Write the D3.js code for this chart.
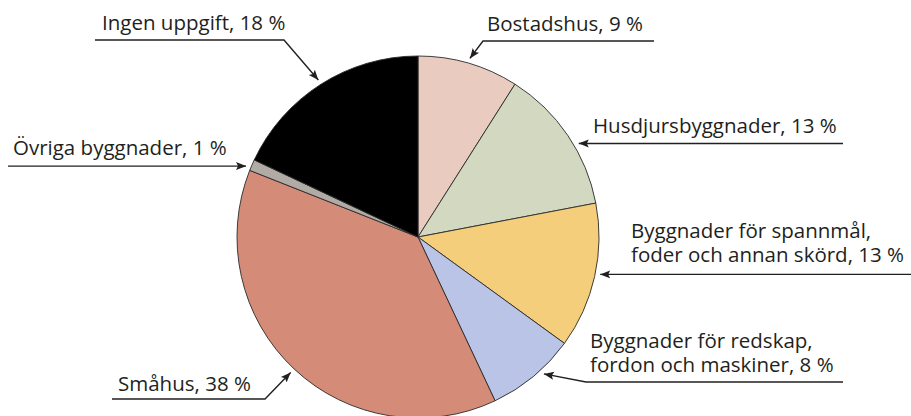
<!DOCTYPE html>
<html>
<head>
<meta charset="utf-8">
<script src="https://cdn.jsdelivr.net/npm/d3@7"></script>
<style>
  body { margin: 0; background: #fff; }
  svg text { font-family: "Open Sans", sans-serif; font-size: 20.5px; fill: #231f20; }
</style>
</head>
<body>
<div id="chart"></div>
<script>
// Data, clockwise from 12 o'clock
const categories = [
  "Bostadshus",
  "Husdjursbyggnader",
  "Byggnader för spannmål, foder och annan skörd",
  "Byggnader för redskap, fordon och maskiner",
  "Småhus",
  "Övriga byggnader",
  "Ingen uppgift"
];
const shares = [9, 13, 13, 8, 38, 1, 18];
const labelLines = [
  ["Bostadshus, 9 %"],
  ["Husdjursbyggnader, 13 %"],
  ["Byggnader för spannmål,", "foder och annan skörd, 13 %"],
  ["Byggnader för redskap,", "fordon och maskiner, 8 %"],
  ["Småhus, 38 %"],
  ["Övriga byggnader, 1 %"],
  ["Ingen uppgift, 18 %"]
];
const colors = ["#eacbc0", "#d3d8c0", "#f4ce7a", "#b9c4e6", "#d48c79", "#b1aba6", "#000000"];

const w = 911, h = 416;
const cx = 418, cy = 237, r = 181;

// label layout: text x, first baseline, underline y, elbow x (null = straight to tip), far end x, angle nudge (deg)
const layout = [
  {tx: 487, ty: 31,  ly: 41,  ex: 483,  end: 654, nudge: 0},
  {tx: 593, ty: 133, ly: null, ex: null, end: 843, nudge: 4},
  {tx: 631, ty: 238, ly: null, ex: null, end: 911, nudge: -1},
  {tx: 590, ty: 348, ly: 382, ex: 586,  end: 843, nudge: -3},
  {tx: 118, ty: 391, ly: 399, ex: 265,  end: 112, nudge: 0},
  {tx: 13,  ty: 155, ly: null, ex: null, end: 8,   nudge: -1},
  {tx: 102, ty: 30,  ly: 40,  ex: 284,  end: 95,  nudge: 0}
];

const svg = d3.select("#chart").append("svg")
  .attr("width", w)
  .attr("height", h);

svg.append("defs").append("marker")
  .attr("id", "arrow")
  .attr("viewBox", "0 0 10 10")
  .attr("refX", 10)
  .attr("refY", 5)
  .attr("markerWidth", 10)
  .attr("markerHeight", 10)
  .attr("markerUnits", "userSpaceOnUse")
  .attr("orient", "auto")
  .append("path")
  .attr("d", "M0,1 L10,5 L0,9 L2,5 Z")
  .attr("fill", "#231f20");

const pie = d3.pie().sort(null).value(d => d);
const arcs = pie(shares);
const arc = d3.arc().innerRadius(0).outerRadius(r);

const g = svg.append("g").attr("transform", "translate(" + cx + "," + cy + ")");

g.selectAll("path.slice")
  .data(arcs)
  .enter()
  .append("path")
  .attr("class", "slice")
  .attr("d", arc)
  .attr("fill", (d, i) => colors[i])
  .attr("stroke", "#2a2a2a")
  .attr("stroke-width", 0.9)
  .attr("stroke-linejoin", "round");

// labels with leader arrows
arcs.forEach((d, i) => {
  const L = layout[i];
  const a = (d.startAngle + d.endAngle) / 2 + L.nudge * Math.PI / 180;
  const tip = [cx + (r + 5) * Math.sin(a), cy - (r + 5) * Math.cos(a)];
  let pts;
  if (L.ex === null) {
    pts = [[L.end, tip[1]], tip];
  } else {
    pts = [[L.end, L.ly], [L.ex, L.ly], tip];
  }
  svg.append("path")
    .attr("d", d3.line()(pts))
    .attr("fill", "none")
    .attr("stroke", "#231f20")
    .attr("stroke-width", 1.4)
    .attr("marker-end", "url(#arrow)");

  const t = svg.append("text")
    .attr("x", L.tx)
    .attr("y", L.ty);
  labelLines[i].forEach((s, k) => {
    t.append("tspan")
      .attr("x", L.tx)
      .attr("dy", k === 0 ? 0 : 24)
      .text(s);
  });
});
</script>
</body>
</html>
